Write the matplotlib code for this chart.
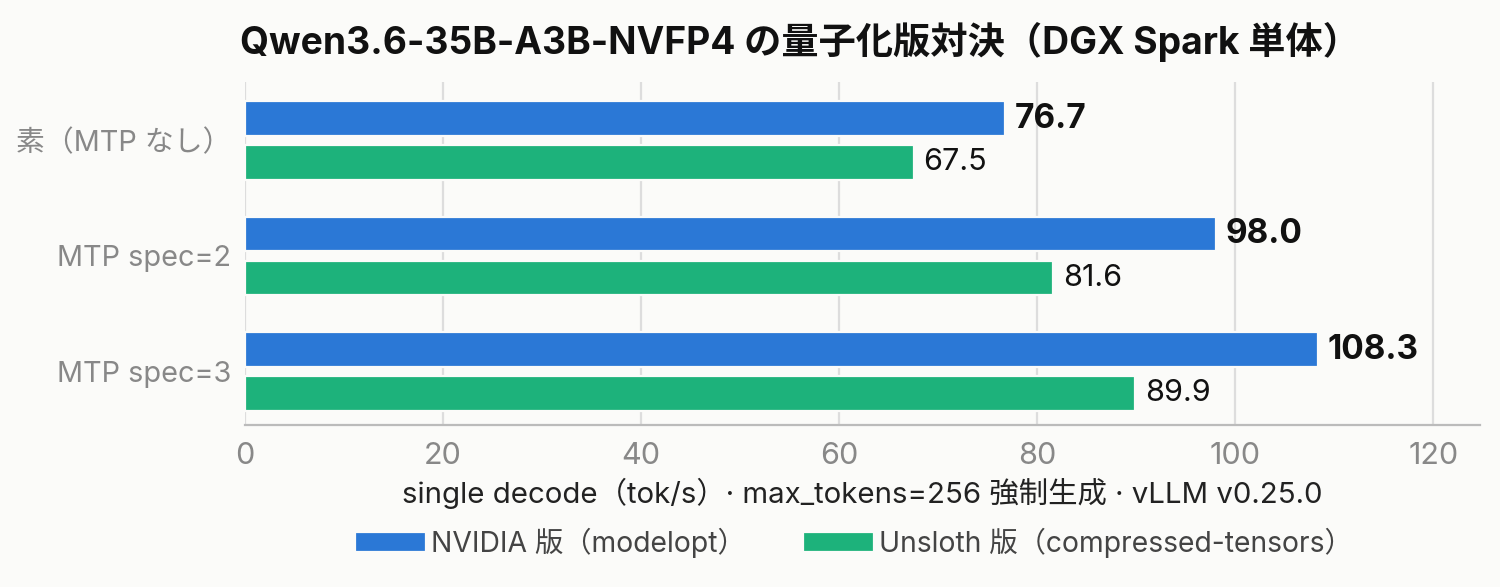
import numpy as np
import matplotlib as mpl
import matplotlib.pyplot as plt

plt.rcParams['font.family'] = ['Inter', 'Noto Sans CJK JP', 'DejaVu Sans']

categories = ['素（MTP なし）', 'MTP spec=2', 'MTP spec=3']
nvidia = [76.7, 98.0, 108.3]
unsloth = [67.5, 81.6, 89.9]
series_names = ['NVIDIA 版（modelopt）', 'Unsloth 版（compressed-tensors）']
xticks = [0, 20, 40, 60, 80, 100, 120]

BG = '#fbfbf9'
BLUE = '#2b78d6'
GREEN = '#1db27b'

fig = plt.figure(figsize=(7.5, 2.935), dpi=200, facecolor=BG)
ax = fig.add_axes([245/1500, 1 - 425/587, (1480-245)/1500, (425-82)/587])
ax.set_facecolor(BG)

y = np.arange(len(categories))
h = 0.30
off = 0.19
ax.barh(y - off, nvidia, height=h, color=BLUE, edgecolor=BG, linewidth=0.8,
        label=series_names[0], zorder=2)
ax.barh(y + off, unsloth, height=h, color=GREEN, edgecolor=BG, linewidth=0.8,
        label=series_names[1], zorder=2)

for yi, v in zip(y, nvidia):
    ax.annotate(f'{v:.1f}', (v, yi - off), xytext=(3.5, 0), textcoords='offset points',
                va='center', ha='left', fontsize=12, fontweight='bold', color='#111111')
for yi, v in zip(y, unsloth):
    ax.annotate(f'{v:.1f}', (v, yi + off), xytext=(3.5, 0), textcoords='offset points',
                va='center', ha='left', fontsize=11, color='#111111')

ax.set_xlim(0, 124.7)
ax.set_ylim(2.463, -0.506)
ax.set_xticks(xticks)
ax.set_yticks(y)
ax.set_yticklabels(categories)
ax.tick_params(axis='x', length=0, labelsize=11, labelcolor='#888888', pad=6)
ax.tick_params(axis='y', length=0, labelsize=10.4, labelcolor='#888888', pad=5)
ax.grid(axis='x', color='#dddddd', linewidth=0.8, zorder=0)
ax.set_axisbelow(True)
for s in ['top', 'right', 'left']:
    ax.spines[s].set_visible(False)
ax.spines['bottom'].set_color('#bbbbbb')
ax.spines['bottom'].set_linewidth(0.8)

ax.set_xlabel('single decode（tok/s）· max_tokens=256 強制生成 · vLLM v0.25.0',
              fontsize=10.6, color='#222222', labelpad=3)

fig.text(800/1500, 1 - 42/587, 'Qwen3.6-35B-A3B-NVFP4 の量子化版対決（DGX Spark 単体）',
         ha='center', va='center', fontsize=13.4, fontweight='bold', color='#111111')

fig.legend(loc='center', bbox_to_anchor=(854/1500, 1 - 543/587), ncol=2, frameon=False,
           fontsize=10.2, handlelength=2.5, handleheight=0.7, handletextpad=0.2,
           columnspacing=2.0, labelcolor='#444444')

fig.savefig('out.png', dpi=200, facecolor=BG)
